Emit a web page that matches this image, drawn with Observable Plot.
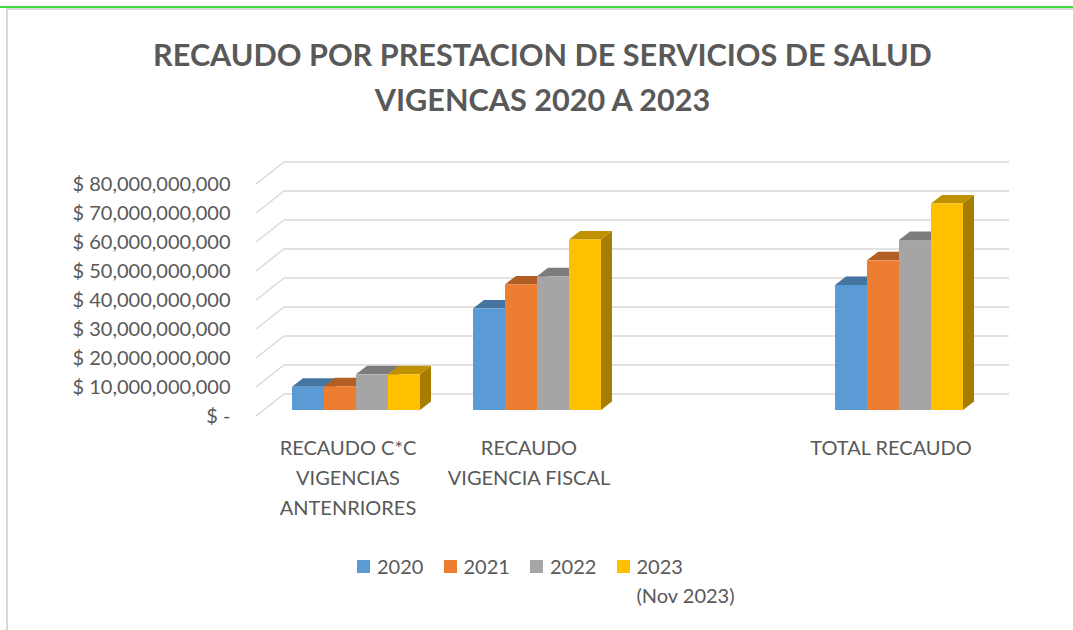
<!DOCTYPE html>
<html><head><meta charset="utf-8">
<script src="https://cdn.jsdelivr.net/npm/d3@7"></script>
<script src="https://cdn.jsdelivr.net/npm/@observablehq/plot@0.6"></script>
<style>
body{margin:0;background:#fff;}
#wrap{position:relative;width:1073px;height:630px;overflow:hidden;font-family:Lato,"Open Sans",sans-serif;color:#595959;background:#fff;}
#topline{position:absolute;left:0;top:6px;width:1073px;height:2px;background:#3ddc3d;}
#topgray{position:absolute;left:6px;top:8px;width:1067px;height:2px;background:#d9d9d9;}
#leftgray{position:absolute;left:6px;top:8px;width:2px;height:622px;background:#d9d9d9;}
#title{position:absolute;top:32px;left:6px;width:1073px;text-align:center;font-weight:700;font-size:30.6px;line-height:45px;white-space:pre-line;}
#chart{position:absolute;left:0;top:0;}
#legend{position:absolute;top:552px;left:357px;display:flex;}
.item{width:86.5px;display:flex;align-items:flex-start;font-size:20px;line-height:29px;white-space:pre;}
.sw{width:13px;height:13px;margin-top:8px;margin-right:7px;flex:none;}
</style>
</head><body>
<div id="wrap">
  <div id="topline"></div><div id="topgray"></div><div id="leftgray"></div>
  <div id="title"></div>
  <div id="chart"></div>
  <div id="legend"></div>
</div>
<script>
const titleLines = ["RECAUDO POR PRESTACION DE SERVICIOS DE SALUD", "VIGENCAS 2020 A 2023"];
const categories = ["RECAUDO C*C\nVIGENCIAS\nANTENRIORES", "RECAUDO\nVIGENCIA FISCAL", " ", "TOTAL RECAUDO"];
const years = ["2020", "2021", "2022", "2023"];
const legendLabels = ["2020", "2021", "2022", "2023\n(Nov 2023)"];
const colors = ["#5b9bd5", "#ed7d31", "#a5a5a5", "#ffc000"];
// values per category (blank category has no bars)
const values2020 = [8.0e9, 35.0e9, null, 43.1e9];
const values2021 = [8.2e9, 43.3e9, null, 51.6e9];
const values2022 = [12.3e9, 46.1e9, null, 58.6e9];
const values2023 = [12.3e9, 58.8e9, null, 71.2e9];
const yTicks = [0, 10e9, 20e9, 30e9, 40e9, 50e9, 60e9, 70e9, 80e9];

const series = [values2020, values2021, values2022, values2023];
const rows = [];
categories.forEach((c, i) => {
  years.forEach((yr, j) => {
    const v = series[j][i];
    if (v != null) rows.push({cat: c, year: yr, value: v});
  });
});

document.getElementById("title").textContent = titleLines.join("\n");

const fmt = v => v === 0 ? "$ -" : "$ " + d3.format(",")(v);
const W = 1073, H = 630, ML = 265, MR = 84, MT = 178, MB = 220;

const plot = Plot.plot({
  width: W, height: H,
  marginLeft: ML, marginRight: MR, marginTop: MT, marginBottom: MB,
  style: {fontFamily: "Lato, 'Open Sans', sans-serif", color: "#595959", background: "transparent", overflow: "visible"},
  fx: {domain: categories, padding: 0},
  x: {domain: years, paddingInner: 0, paddingOuter: 0.75, axis: null},
  y: {domain: [0, 80e9], axis: null},
  color: {domain: years, range: colors},
  marks: [
    Plot.barY(rows, {fx: "cat", x: "year", y: "value", fill: "year", insetLeft: 0, insetRight: 0}),
    // y tick labels, drawn only in the first facet
    Plot.text(yTicks, {fx: () => categories[0], y: d => d, text: fmt, frameAnchor: "left", textAnchor: "end", dx: -35, dy: 6, fontSize: 20, fill: "#595959"}),
    Plot.axisFx({anchor: "bottom", tickSize: 0, tickPadding: 23, dx: -8, fontSize: 20, lineHeight: 1.5, fill: "#595959", label: null, tickFormat: d => d})
  ]
});
document.getElementById("chart").appendChild(plot);

// 3D decoration derived from the Plot scales and the rendered bars
const svg = d3.select(plot);
const ys = plot.scale("y");
const L = ML, R = W - MR;
const grid = svg.insert("g", ":first-child").attr("stroke", "#d9d9d9").attr("stroke-width", 1.5).attr("fill", "none");
yTicks.forEach(v => {
  const py = ys.apply(v);
  grid.append("line").attr("x1", L + 19).attr("x2", R + 20).attr("y1", py - 16).attr("y2", py - 16);
  grid.append("line").attr("x1", L - 9).attr("x2", L + 19).attr("y1", py + 6).attr("y2", py - 16);
});
const DX = 11, DY = -8.5;
const shade = (c, k) => { const r = d3.rgb(c); return d3.rgb(r.r * k, r.g * k, r.b * k).formatHex(); };
svg.selectAll("g[aria-label='bar'] rect").each(function() {
  const r = d3.select(this);
  const x = +r.attr("x"), y = +r.attr("y"), w = +r.attr("width"), h = +r.attr("height");
  const fill = r.attr("fill");
  const parent = this.parentNode;
  const side = document.createElementNS("http://www.w3.org/2000/svg", "polygon");
  side.setAttribute("points", [[x + w, y], [x + w + DX, y + DY], [x + w + DX, y + h + DY], [x + w, y + h]].map(p => p.join(",")).join(" "));
  side.setAttribute("fill", shade(fill, 0.65));
  const top = document.createElementNS("http://www.w3.org/2000/svg", "polygon");
  top.setAttribute("points", [[x, y], [x + DX, y + DY], [x + w + DX, y + DY], [x + w, y]].map(p => p.join(",")).join(" "));
  top.setAttribute("fill", shade(fill, 0.75));
  parent.insertBefore(side, this);
  parent.insertBefore(top, this);
});

// legend
const leg = document.getElementById("legend");
years.forEach((yr, i) => {
  const it = document.createElement("div"); it.className = "item";
  const sw = document.createElement("div"); sw.className = "sw"; sw.style.background = colors[i];
  const tx = document.createElement("div"); tx.textContent = legendLabels[i];
  it.appendChild(sw); it.appendChild(tx); leg.appendChild(it);
});
</script>
</body></html>
